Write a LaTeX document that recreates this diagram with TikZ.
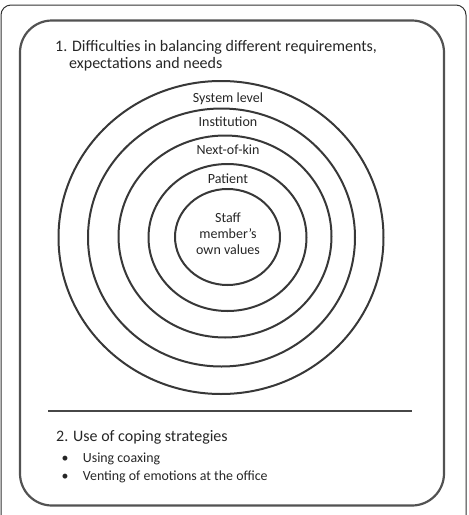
\documentclass[tikz,border=0pt]{standalone}
\usepackage{fontspec}
\setmainfont{Carlito}
\begin{document}
\begin{tikzpicture}[x=1pt,y=-1pt,
  ring/.style={draw=black!78, line width=2pt},
  lab/.style={anchor=base, inner sep=0pt, text=black!85, font=\fontsize{14}{16}\selectfont},
  head/.style={anchor=base west, inner sep=0pt, text=black!85, font=\fontsize{16}{18}\selectfont},
  item/.style={anchor=base west, inner sep=0pt, text=black!85, font=\fontsize{13.9}{16}\selectfont}]
\useasboundingbox (0,0) rectangle (469,515);
% outer frame
\draw[black!80, line width=1pt, rounded corners=10pt] (1,515) -- (1,5) -- (466,5) -- (466,515);
% inner box
\draw[black!68, line width=2.2pt, rounded corners=32pt] (20,20.5) rectangle (444,505.5);
% title
\node[head] (t1) at (55,51) {1. Difficulties in balancing different requirements,};
\node[head] (t2) at (69,68) {expectations and needs};
% rings
\draw[ring] (221,237.5) ellipse [x radius=162.5pt, y radius=156.5pt];
\draw[ring] (221.5,237.5) ellipse [x radius=133.5pt, y radius=129pt];
\draw[ring] (225,236.5) ellipse [x radius=106.5pt, y radius=101pt];
\draw[ring] (227.5,237.5) ellipse [x radius=79pt, y radius=73.5pt];
\draw[ring] (227.5,237) ellipse [x radius=52.5pt, y radius=48pt];
% ring labels
\node[lab] (sys) at (228,102.5) {System level};
\node[lab] (inst) at (228,126.5) {Institution};
\node[lab] (kin) at (228,154.5) {Next-of-kin};
\node[lab] (pat) at (228,183.5) {Patient};
\node[lab] (s1) at (228,222.5) {Staff};
\node[lab] (s2) at (228,238.5) {member’s};
\node[lab] (s3) at (228,254.5) {own values};
% separator
\coordinate (la) at (48,411);
\coordinate (lb) at (412,411);
\draw[black!72, line width=2pt] (la) -- (lb);
% coping section
\node[head] (c0) at (56,441) {2. Use of coping strategies};
\node[item] (b1) at (61.5,462.5) {•};
\node[item] (i1) at (82.7,462.5) {Using coaxing};
\node[item] (b2) at (61.5,480) {•};
\node[item] (i2) at (82.7,480) {Venting of emotions at the office};
\end{tikzpicture}
\end{document}
